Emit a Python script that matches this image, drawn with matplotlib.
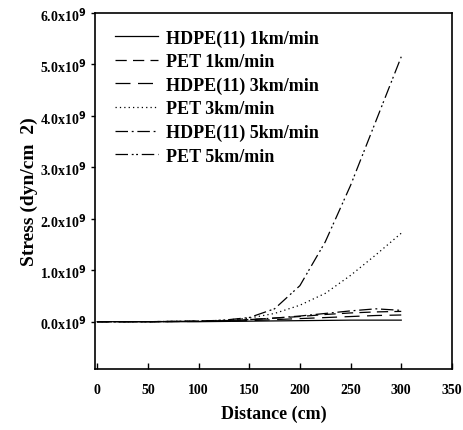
import numpy as np
import matplotlib
matplotlib.use("Agg")
import matplotlib.pyplot as plt
from matplotlib.ticker import FixedLocator

plt.rcParams['font.family'] = ['Liberation Serif', 'DejaVu Serif']
plt.rcParams['font.weight'] = 'bold'

# --- data ---
distance = [0, 50, 100, 125, 150, 175, 200, 225, 250, 275, 300]
hdpe_1 = [0, 0.0, 0.0, 0.005, 0.01, 0.015, 0.02, 0.025, 0.03, 0.03, 0.03]
pet_1 = [0, 0.0, 0.01, 0.02, 0.04, 0.07, 0.10, 0.14, 0.17, 0.19, 0.20]
hdpe_3 = [0, 0.0, 0.005, 0.01, 0.02, 0.04, 0.06, 0.08, 0.10, 0.12, 0.13]
pet_3 = [0, 0.0, 0.01, 0.03, 0.07, 0.16, 0.32, 0.55, 0.90, 1.30, 1.72]
hdpe_5 = [0, 0.0, 0.01, 0.02, 0.04, 0.07, 0.11, 0.16, 0.21, 0.25, 0.22]
pet_5 = [0, 0.0, 0.01, 0.03, 0.08, 0.25, 0.70, 1.55, 2.65, 3.90, 5.15]

labels = ["HDPE(11) 1km/min", "PET 1km/min", "HDPE(11) 3km/min",
          "PET 3km/min", "HDPE(11) 5km/min", "PET 5km/min"]
styles = ['-', (0, (9, 5)), (0, (12, 6)), (0, (1, 2.5)),
          (0, (10, 3, 1.5, 3)), (0, (10, 3, 1.5, 2, 1.5, 3))]
series = [hdpe_1, pet_1, hdpe_3, pet_3, hdpe_5, pet_5]

yticks = [0, 1, 2, 3, 4, 5, 6]
ytick_labels = ["%.1fx10$^9$" % v for v in yticks]
xticks = [0, 50, 100, 150, 200, 250, 300, 350]

fig = plt.figure(figsize=(4.64, 4.31), dpi=100)
ax = fig.add_axes([0.205, 0.1415, 0.769, 0.826])

for ys, ls, lab in zip(series, styles, labels):
    ax.plot(distance, np.array(ys) * 1e9, color='black', lw=0.9, linestyle=ls, label=lab)

ax.set_xlim(-2, 350)
ax.set_ylim(-0.92e9, 6.0e9)
ax.xaxis.set_major_locator(FixedLocator(xticks))
ax.set_xticklabels([str(v) for v in xticks], fontsize=10, fontweight='bold')
ax.set_yticks([v * 1e9 for v in yticks])
ax.set_yticklabels(ytick_labels, fontsize=10, fontweight='bold')
ax.tick_params(axis='x', direction='in', length=4, pad=10, width=1)
ax.tick_params(axis='y', direction='out', length=3, pad=3, width=1)
for s in ax.spines.values():
    s.set_linewidth(1.2)

ax.set_xlabel("Distance (cm)", fontsize=13, fontweight='bold', labelpad=6)
ax.set_ylabel("Stress (dyn/cm  2)", fontsize=14, fontweight='bold', labelpad=2)

leg = ax.legend(loc='upper left', bbox_to_anchor=(0.02, 0.99), frameon=False,
                prop={'size': 13, 'weight': 'bold'}, handlelength=2.4,
                handletextpad=0.45, labelspacing=0.36, borderpad=0.2)

fig.savefig("out.png", dpi=100)
